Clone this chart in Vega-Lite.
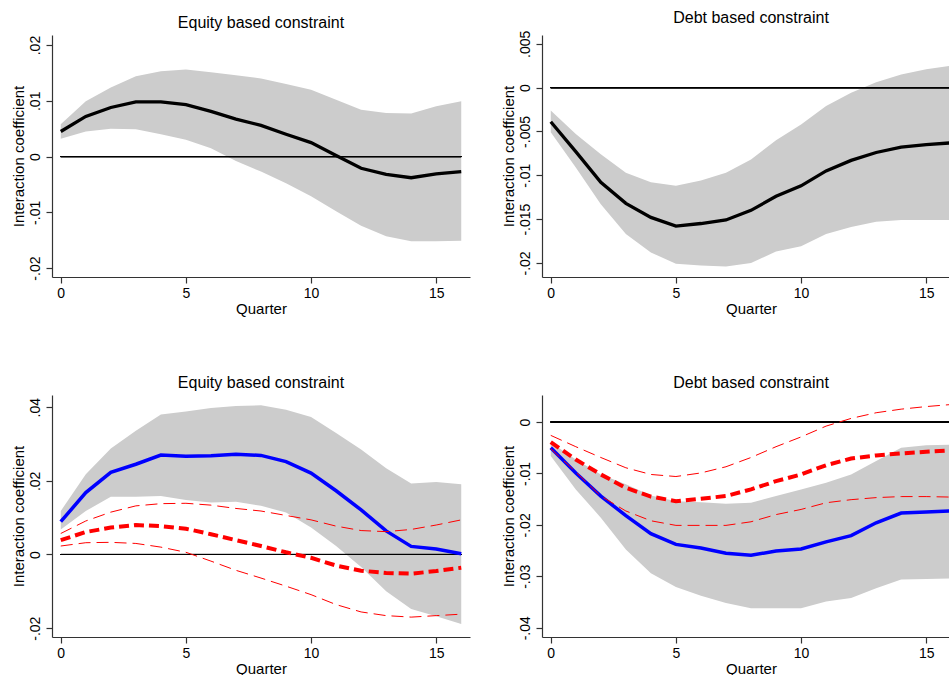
{
  "$schema": "https://vega.github.io/schema/vega-lite/v6.json",
  "background": "white",
  "padding": {"left": 11, "top": 10, "right": 0, "bottom": 0},
  "config": {
    "view": {"stroke": null},
    "font": "Liberation Sans",
    "title": {"fontSize": 16, "fontWeight": "normal", "color": "#000", "offset": 4, "font": "Liberation Sans"},
    "axis": {"grid": false, "domainColor": "#333", "tickColor": "#333", "labelColor": "#000", "titleColor": "#000", "labelFontSize": 14, "titleFontSize": 15, "titleFontWeight": "normal", "tickSize": 6, "domainWidth": 1.2, "tickWidth": 1.2, "labelFont": "Liberation Sans", "titleFont": "Liberation Sans"},
    "axisY": {"labelAngle": -90, "labelAlign": "center", "labelBaseline": "bottom", "labelPadding": 4, "titlePadding": 2},
    "axisX": {"labelPadding": 3.5, "titlePadding": 1}
  },
  "datasets": {
    "p1": [
      {"q": 0, "est": 0.0045, "lo": 0.0032, "hi": 0.0058},
      {"q": 1, "est": 0.0072, "lo": 0.0045, "hi": 0.0099},
      {"q": 2, "est": 0.0088, "lo": 0.0050, "hi": 0.0124},
      {"q": 3, "est": 0.0098, "lo": 0.0049, "hi": 0.0144},
      {"q": 4, "est": 0.0098, "lo": 0.0040, "hi": 0.0153},
      {"q": 5, "est": 0.0093, "lo": 0.0030, "hi": 0.0156},
      {"q": 6, "est": 0.0081, "lo": 0.0015, "hi": 0.0151},
      {"q": 7, "est": 0.0067, "lo": -0.0008, "hi": 0.0146},
      {"q": 8, "est": 0.0056, "lo": -0.0027, "hi": 0.0140},
      {"q": 9, "est": 0.0040, "lo": -0.0048, "hi": 0.0130},
      {"q": 10, "est": 0.0025, "lo": -0.0071, "hi": 0.0120},
      {"q": 11, "est": 0.0002, "lo": -0.0098, "hi": 0.0102},
      {"q": 12, "est": -0.0021, "lo": -0.0124, "hi": 0.0084},
      {"q": 13, "est": -0.0032, "lo": -0.0143, "hi": 0.0078},
      {"q": 14, "est": -0.0038, "lo": -0.0152, "hi": 0.0077},
      {"q": 15, "est": -0.0031, "lo": -0.0152, "hi": 0.0090},
      {"q": 16, "est": -0.0027, "lo": -0.0151, "hi": 0.0099}
    ],
    "p2": [
      {"q": 0, "est": -0.0039, "lo": -0.0051, "hi": -0.0026},
      {"q": 1, "est": -0.0073, "lo": -0.0091, "hi": -0.0053},
      {"q": 2, "est": -0.0108, "lo": -0.0133, "hi": -0.0076},
      {"q": 3, "est": -0.0132, "lo": -0.0167, "hi": -0.0097},
      {"q": 4, "est": -0.0148, "lo": -0.0188, "hi": -0.0108},
      {"q": 5, "est": -0.0158, "lo": -0.0201, "hi": -0.0112},
      {"q": 6, "est": -0.0155, "lo": -0.0203, "hi": -0.0106},
      {"q": 7, "est": -0.0151, "lo": -0.0204, "hi": -0.0097},
      {"q": 8, "est": -0.0140, "lo": -0.0200, "hi": -0.0082},
      {"q": 9, "est": -0.0124, "lo": -0.0187, "hi": -0.0060},
      {"q": 10, "est": -0.0112, "lo": -0.0181, "hi": -0.0042},
      {"q": 11, "est": -0.0095, "lo": -0.0167, "hi": -0.0021},
      {"q": 12, "est": -0.0083, "lo": -0.0159, "hi": -0.0006},
      {"q": 13, "est": -0.0074, "lo": -0.0153, "hi": 0.0006},
      {"q": 14, "est": -0.0068, "lo": -0.0151, "hi": 0.0015},
      {"q": 15, "est": -0.0065, "lo": -0.0151, "hi": 0.0021},
      {"q": 16, "est": -0.0063, "lo": -0.0151, "hi": 0.0025}
    ],
    "p3": [
      {"q": 0, "est": 0.0089, "lo": 0.0068, "hi": 0.0118, "r": 0.0039, "rlo": 0.0023, "rhi": 0.0057},
      {"q": 1, "est": 0.0168, "lo": 0.0118, "hi": 0.0218, "r": 0.0061, "rlo": 0.0032, "rhi": 0.0091},
      {"q": 2, "est": 0.0223, "lo": 0.0157, "hi": 0.0288, "r": 0.0073, "rlo": 0.0033, "rhi": 0.0115},
      {"q": 3, "est": 0.0245, "lo": 0.0157, "hi": 0.0336, "r": 0.0080, "rlo": 0.0030, "rhi": 0.0132},
      {"q": 4, "est": 0.0270, "lo": 0.0159, "hi": 0.0380, "r": 0.0077, "rlo": 0.0020, "rhi": 0.0138},
      {"q": 5, "est": 0.0267, "lo": 0.0148, "hi": 0.0388, "r": 0.0070, "rlo": 0.0006, "rhi": 0.0139},
      {"q": 6, "est": 0.0268, "lo": 0.0141, "hi": 0.0398, "r": 0.0055, "rlo": -0.0018, "rhi": 0.0134},
      {"q": 7, "est": 0.0272, "lo": 0.0143, "hi": 0.0403, "r": 0.0039, "rlo": -0.0043, "rhi": 0.0125},
      {"q": 8, "est": 0.0269, "lo": 0.0132, "hi": 0.0405, "r": 0.0023, "rlo": -0.0064, "rhi": 0.0118},
      {"q": 9, "est": 0.0252, "lo": 0.0114, "hi": 0.0393, "r": 0.0006, "rlo": -0.0086, "rhi": 0.0106},
      {"q": 10, "est": 0.0221, "lo": 0.0073, "hi": 0.0373, "r": -0.0009, "rlo": -0.0109, "rhi": 0.0094},
      {"q": 11, "est": 0.0173, "lo": 0.0023, "hi": 0.0330, "r": -0.0030, "rlo": -0.0136, "rhi": 0.0077},
      {"q": 12, "est": 0.0121, "lo": -0.0034, "hi": 0.0285, "r": -0.0044, "rlo": -0.0156, "rhi": 0.0065},
      {"q": 13, "est": 0.0064, "lo": -0.0100, "hi": 0.0234, "r": -0.0050, "rlo": -0.0166, "rhi": 0.0062},
      {"q": 14, "est": 0.0022, "lo": -0.0148, "hi": 0.0193, "r": -0.0052, "rlo": -0.0170, "rhi": 0.0068},
      {"q": 15, "est": 0.0015, "lo": -0.0168, "hi": 0.0197, "r": -0.0045, "rlo": -0.0166, "rhi": 0.0080},
      {"q": 16, "est": 0.0002, "lo": -0.0189, "hi": 0.0191, "r": -0.0036, "rlo": -0.0162, "rhi": 0.0094}
    ],
    "p4": [
      {"q": 0, "est": -0.0050, "lo": -0.0066, "hi": -0.0040, "r": -0.0039, "rlo": -0.0052, "rhi": -0.0026},
      {"q": 1, "est": -0.0099, "lo": -0.0131, "hi": -0.0073, "r": -0.0073, "rlo": -0.0097, "rhi": -0.0048},
      {"q": 2, "est": -0.0144, "lo": -0.0186, "hi": -0.0102, "r": -0.0102, "rlo": -0.0144, "rhi": -0.0069},
      {"q": 3, "est": -0.0182, "lo": -0.0248, "hi": -0.0121, "r": -0.0128, "rlo": -0.0173, "rhi": -0.0089},
      {"q": 4, "est": -0.0217, "lo": -0.0294, "hi": -0.0143, "r": -0.0145, "rlo": -0.0192, "rhi": -0.0102},
      {"q": 5, "est": -0.0238, "lo": -0.0321, "hi": -0.0154, "r": -0.0154, "rlo": -0.0201, "rhi": -0.0106},
      {"q": 6, "est": -0.0245, "lo": -0.0338, "hi": -0.0156, "r": -0.0149, "rlo": -0.0201, "rhi": -0.0099},
      {"q": 7, "est": -0.0255, "lo": -0.0352, "hi": -0.0159, "r": -0.0144, "rlo": -0.0201, "rhi": -0.0087},
      {"q": 8, "est": -0.0259, "lo": -0.0362, "hi": -0.0157, "r": -0.0131, "rlo": -0.0194, "rhi": -0.0069},
      {"q": 9, "est": -0.0251, "lo": -0.0362, "hi": -0.0144, "r": -0.0115, "rlo": -0.0180, "rhi": -0.0048},
      {"q": 10, "est": -0.0247, "lo": -0.0362, "hi": -0.0131, "r": -0.0102, "rlo": -0.0170, "rhi": -0.0029},
      {"q": 11, "est": -0.0233, "lo": -0.0349, "hi": -0.0118, "r": -0.0084, "rlo": -0.0157, "rhi": -0.0008},
      {"q": 12, "est": -0.0221, "lo": -0.0342, "hi": -0.0102, "r": -0.0071, "rlo": -0.0151, "rhi": 0.0007},
      {"q": 13, "est": -0.0196, "lo": -0.0323, "hi": -0.0076, "r": -0.0065, "rlo": -0.0147, "rhi": 0.0018},
      {"q": 14, "est": -0.0177, "lo": -0.0306, "hi": -0.0050, "r": -0.0061, "rlo": -0.0145, "rhi": 0.0025},
      {"q": 15, "est": -0.0175, "lo": -0.0305, "hi": -0.0045, "r": -0.0058, "rlo": -0.0145, "rhi": 0.0030},
      {"q": 16, "est": -0.0173, "lo": -0.0304, "hi": -0.0044, "r": -0.0055, "rlo": -0.0146, "rhi": 0.0034}
    ]
  },
  "vconcat": [
    {
      "spacing": 31,
      "hconcat": [
        {
          "width": 418, "height": 242,
          "title": "Equity based constraint",
          "data": {"name": "p1"},
          "encoding": {"x": {"field": "q", "type": "quantitative", "scale": {"domain": [-0.35, 16.35], "nice": false, "zero": false}, "axis": {"values": [0, 5, 10, 15], "title": "Quarter"}}},
          "layer": [
            {"mark": {"type": "area", "color": "#cccccc"}, "encoding": {"y": {"field": "lo", "type": "quantitative", "scale": {"domain": [-0.0216, 0.0218], "nice": false, "zero": false}, "axis": {"values": [-0.02, -0.01, 0, 0.01, 0.02], "title": "Interaction coefficient", "labelExpr": "datum.value == 0 ? '0' : (datum.value < 0 ? '-' : '') + replace(format(abs(datum.value), '.3~f'), '0.', '.')"}}, "y2": {"field": "hi"}}},
            {"mark": {"type": "rule", "color": "#000", "strokeWidth": 1}, "encoding": {"x": {"datum": 0, "type": "quantitative"}, "x2": {"datum": 16}, "y": {"datum": 0, "type": "quantitative"}}},
            {"mark": {"type": "line", "color": "#000", "strokeWidth": 3.3}, "encoding": {"y": {"field": "est", "type": "quantitative"}}}
          ]
        },
        {
          "width": 418, "height": 242,
          "title": "Debt based constraint",
          "data": {"name": "p2"},
          "encoding": {"x": {"field": "q", "type": "quantitative", "scale": {"domain": [-0.35, 16.35], "nice": false, "zero": false}, "axis": {"values": [0, 5, 10, 15], "title": "Quarter"}}},
          "layer": [
            {"mark": {"type": "area", "color": "#cccccc"}, "encoding": {"y": {"field": "lo", "type": "quantitative", "scale": {"domain": [-0.0216, 0.006], "nice": false, "zero": false}, "axis": {"values": [-0.02, -0.015, -0.01, -0.005, 0, 0.005], "title": "Interaction coefficient", "labelExpr": "datum.value == 0 ? '0' : (datum.value < 0 ? '-' : '') + replace(format(abs(datum.value), '.3~f'), '0.', '.')"}}, "y2": {"field": "hi"}}},
            {"mark": {"type": "rule", "color": "#000", "strokeWidth": 1}, "encoding": {"x": {"datum": 0, "type": "quantitative"}, "x2": {"datum": 16}, "y": {"datum": 0, "type": "quantitative"}}},
            {"mark": {"type": "line", "color": "#000", "strokeWidth": 3.3}, "encoding": {"y": {"field": "est", "type": "quantitative"}}}
          ]
        }
      ]
    },
    {
      "spacing": 31,
      "hconcat": [
        {
          "width": 418, "height": 242,
          "title": "Equity based constraint",
          "data": {"name": "p3"},
          "encoding": {"x": {"field": "q", "type": "quantitative", "scale": {"domain": [-0.35, 16.35], "nice": false, "zero": false}, "axis": {"values": [0, 5, 10, 15], "title": "Quarter"}}},
          "layer": [
            {"mark": {"type": "area", "color": "#cccccc"}, "encoding": {"y": {"field": "lo", "type": "quantitative", "scale": {"domain": [-0.0224, 0.0433], "nice": false, "zero": false}, "axis": {"values": [-0.02, 0, 0.02, 0.04], "title": "Interaction coefficient", "labelExpr": "datum.value == 0 ? '0' : (datum.value < 0 ? '-' : '') + replace(format(abs(datum.value), '.3~f'), '0.', '.')"}}, "y2": {"field": "hi"}}},
            {"mark": {"type": "rule", "color": "#000", "strokeWidth": 1}, "encoding": {"x": {"datum": 0, "type": "quantitative"}, "x2": {"datum": 16}, "y": {"datum": 0, "type": "quantitative"}}},
            {"mark": {"type": "line", "color": "#0000ff", "strokeWidth": 3.5}, "encoding": {"y": {"field": "est", "type": "quantitative"}}},
            {"mark": {"type": "line", "color": "#ff0000", "strokeWidth": 1, "strokeDash": [12, 6]}, "encoding": {"y": {"field": "rhi", "type": "quantitative"}}},
            {"mark": {"type": "line", "color": "#ff0000", "strokeWidth": 1, "strokeDash": [12, 6]}, "encoding": {"y": {"field": "rlo", "type": "quantitative"}}},
            {"mark": {"type": "line", "color": "#ff0000", "strokeWidth": 4, "strokeDash": [10, 5]}, "encoding": {"y": {"field": "r", "type": "quantitative"}}}
          ]
        },
        {
          "width": 418, "height": 242,
          "title": "Debt based constraint",
          "data": {"name": "p4"},
          "encoding": {"x": {"field": "q", "type": "quantitative", "scale": {"domain": [-0.35, 16.35], "nice": false, "zero": false}, "axis": {"values": [0, 5, 10, 15], "title": "Quarter"}}},
          "layer": [
            {"mark": {"type": "area", "color": "#cccccc"}, "encoding": {"y": {"field": "lo", "type": "quantitative", "scale": {"domain": [-0.0418, 0.00525], "nice": false, "zero": false}, "axis": {"values": [-0.04, -0.03, -0.02, -0.01, 0], "title": "Interaction coefficient", "labelExpr": "datum.value == 0 ? '0' : (datum.value < 0 ? '-' : '') + replace(format(abs(datum.value), '.3~f'), '0.', '.')"}}, "y2": {"field": "hi"}}},
            {"mark": {"type": "rule", "color": "#000", "strokeWidth": 1}, "encoding": {"x": {"datum": 0, "type": "quantitative"}, "x2": {"datum": 16}, "y": {"datum": 0, "type": "quantitative"}}},
            {"mark": {"type": "line", "color": "#0000ff", "strokeWidth": 3.5}, "encoding": {"y": {"field": "est", "type": "quantitative"}}},
            {"mark": {"type": "line", "color": "#ff0000", "strokeWidth": 1, "strokeDash": [12, 6]}, "encoding": {"y": {"field": "rhi", "type": "quantitative"}}},
            {"mark": {"type": "line", "color": "#ff0000", "strokeWidth": 1, "strokeDash": [12, 6]}, "encoding": {"y": {"field": "rlo", "type": "quantitative"}}},
            {"mark": {"type": "line", "color": "#ff0000", "strokeWidth": 4, "strokeDash": [10, 5]}, "encoding": {"y": {"field": "r", "type": "quantitative"}}}
          ]
        }
      ]
    }
  ],
  "spacing": 58
}
